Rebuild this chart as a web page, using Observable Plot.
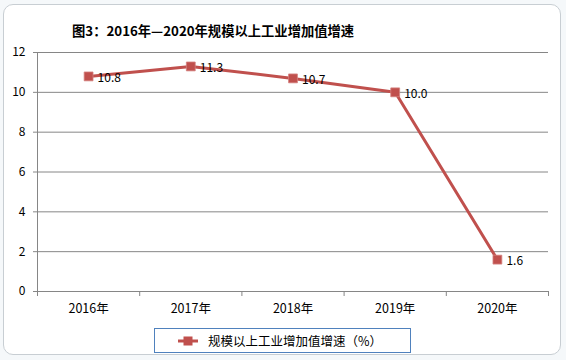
<!DOCTYPE html>
<html><head><meta charset="utf-8">
<script src="https://cdn.jsdelivr.net/npm/d3@7"></script>
<script src="https://cdn.jsdelivr.net/npm/@observablehq/plot@0.6"></script>
<style>
body{margin:0;background:#fff;}
#wrap{position:relative;width:566px;height:360px;overflow:hidden;background:#f5f8fa;}
#frame{position:absolute;left:3px;top:4px;width:556px;height:349px;border:1.5px solid #c8ced3;border-radius:10px;background:#fff;}
#title{position:absolute;left:72px;top:21px;font:bold 13.3px "Noto Sans CJK SC",sans-serif;color:#000;white-space:nowrap;}
#chart{position:absolute;left:0;top:0;}
#legend{position:absolute;left:154px;top:328px;width:257px;height:25px;border:1px solid #4f81bd;box-sizing:border-box;display:flex;align-items:center;font:12.5px "Noto Sans CJK SC",sans-serif;color:#000;white-space:nowrap;}
#legend svg{margin-left:23px;margin-right:10px;}
</style></head>
<body>
<div id="wrap">
  <div id="frame"></div>
  <div id="chart"></div>
  <div id="title"></div>
  <div id="legend"></div>
</div>
<script>
const title = "图3：2016年—2020年规模以上工业增加值增速";
const seriesName = "规模以上工业增加值增速（%）";
const years = ["2016年", "2017年", "2018年", "2019年", "2020年"];
const growth = [10.8, 11.3, 10.7, 10.0, 1.6];
const yTicks = [0, 2, 4, 6, 8, 10, 12];
const color = "#C0504D";

const data = years.map((y, i) => ({i: i + 0.5, year: y, value: growth[i], label: growth[i].toFixed(1)}));
const bounds = d3.range(years.length + 1);

const chart = Plot.plot({
  width: 566, height: 360,
  marginLeft: 37, marginRight: 18, marginTop: 52, marginBottom: 69,
  style: {fontFamily: "'Noto Sans CJK SC', sans-serif", fontSize: "12px", background: "transparent", color: "#000"},
  x: {domain: [0, years.length], label: null},
  y: {domain: [0, 12], label: null},
  marks: [
    Plot.gridY(yTicks, {stroke: "#868686", strokeOpacity: 1, strokeWidth: 1}),
    Plot.ruleX([0], {stroke: "#868686", strokeWidth: 1}),
    Plot.axisY({ticks: yTicks, tickSize: 4, tickPadding: 8, stroke: "#868686", fontSize: 12, fill: "#000", label: null}),
    Plot.axisX({ticks: bounds, tickSize: 5, tickFormat: () => "", stroke: "#868686", label: null}),
    Plot.axisX({ticks: data.map(d => d.i), tickSize: 0, tickPadding: 13, tickFormat: v => years[Math.floor(v)], fontSize: 12.5, fill: "#000", label: null}),
    Plot.line(data, {x: "i", y: "value", stroke: color, strokeWidth: 3}),
    Plot.dot(data, {x: "i", y: "value", symbol: "square", r: 5, fill: color, stroke: "#d4827f", strokeWidth: 0.8}),
    Plot.text(data, {x: "i", y: "value", text: "label", textAnchor: "start", dx: 9, dy: 2, fontSize: 12, fill: "#000"})
  ]
});
document.getElementById("chart").appendChild(chart);
document.getElementById("title").textContent = title;

const leg = document.getElementById("legend");
const ns = "http://www.w3.org/2000/svg";
const sw = document.createElementNS(ns, "svg");
sw.setAttribute("width", 20); sw.setAttribute("height", 12);
sw.innerHTML = `<line x1="0" y1="6" x2="20" y2="6" stroke="${color}" stroke-width="3"/><rect x="5.5" y="1.5" width="9" height="9" fill="${color}"/>`;
leg.appendChild(sw);
const sp = document.createElement("span");
sp.textContent = seriesName;
leg.appendChild(sp);
</script>
</body></html>
